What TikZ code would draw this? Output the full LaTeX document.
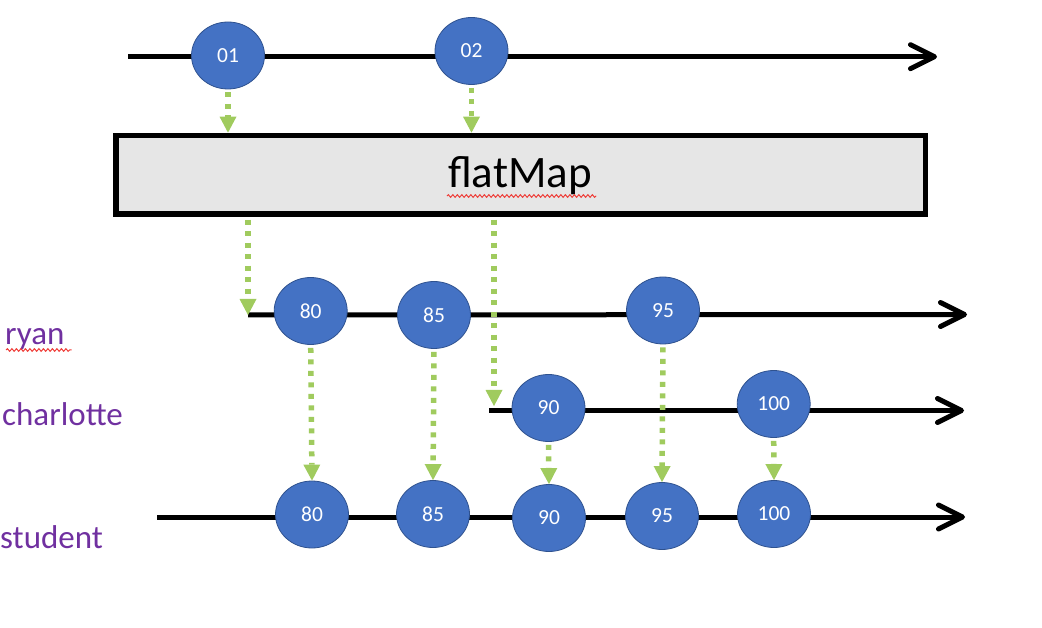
\documentclass[tikz,border=0pt]{standalone}
\usepackage{fontspec}
\setmainfont{Carlito}
\usetikzlibrary{arrows.meta,decorations.pathmorphing,calc,shapes.geometric}
\definecolor{obl}{HTML}{4472C4}
\definecolor{obd}{HTML}{2F528F}
\definecolor{grn}{HTML}{A0CB5E}
\definecolor{purp}{HTML}{7030A0}
\definecolor{boxg}{HTML}{E6E6E6}
\definecolor{spell}{HTML}{EE3B36}
\begin{document}
\begin{tikzpicture}[x=1pt,y=-1pt,
  timeline/.style={line width=5pt,-{Straight Barb[length=24pt,width=24pt,round]}},
  marble/.style={ellipse,minimum width=73pt,minimum height=67pt,inner sep=0pt,
    fill=obl,draw=obd,line width=0.8pt,text=white,font=\fontsize{21.5}{24}\selectfont},
  flow/.style={draw=grn,line width=5.5pt,dash pattern=on 5pt off 6.5pt,
    -{Triangle[length=16pt,width=17pt,line width=0pt,fill=grn]},shorten <=3pt},
  lbl/.style={text=purp,font=\fontsize{33}{38}\selectfont,inner sep=0pt,anchor=base west},
  squig/.style={draw=spell,line width=1pt,decorate,decoration={snake,segment length=4.5pt,amplitude=1.3pt}}]
\useasboundingbox (0,0) rectangle (1042,628);

% timelines
\coordinate (t0) at (128,56.7);  \coordinate (t1) at (937,56.7);
\coordinate (r0) at (248,315);   \coordinate (r1) at (967,314.5);
\coordinate (h0) at (489,410.5); \coordinate (h1) at (964,410.5);
\coordinate (s0) at (157,517);   \coordinate (s1) at (965,517);
\coordinate (hTip) at (494,406);
\draw[timeline] (t0) -- (t1);
\draw[timeline] (r0) -- (r1);
\draw[timeline] (h0) -- (h1);
\draw[timeline] (s0) -- (s1);

% operator box
\node[draw,line width=5.3pt,fill=boxg,minimum width=809.5pt,minimum height=78.7pt,inner sep=0pt] (box) at (520.75,174.65) {};
\node[font=\fontsize{45}{50}\selectfont,anchor=base,inner sep=0pt] (fm) at (520,188) {flatMap};
\draw[squig] ($(fm.base west)+(-1,8)$) -- ($(fm.base east)+(4,8)$);

% marbles
\node[marble] (c01) at (228,55.5) {01};
\node[marble] (c02) at (471.5,51) {02};
\node[marble] (r80) at (310.7,311) {80};
\node[marble] (r85) at (434,315) {85};
\node[marble] (r95) at (663,310.5) {95};
\node[marble] (h90) at (548.5,408) {90};
\node[marble] (h100) at (773.7,404) {100};
\node[marble] (s80) at (312,514.5) {80};
\node[marble] (s85) at (433,514) {85};
\node[marble] (s90) at (549,518) {90};
\node[marble] (s95) at (662,516) {95};
\node[marble] (s100) at (774,514) {100};

% labels
\node[lbl] (ryan) at (5,345) {ryan};
\draw[squig] ($(ryan.base west)+(1,5)$) -- ($(ryan.base east)+(7,5)$);
\node[lbl] (charlotte) at (2,425) {charlotte};
\node[lbl] (student) at (0,548) {student};

% flows
\draw[flow] (c01.south) -- (c01.south |- box.north);
\draw[flow] (c02.south) -- (c02.south |- box.north);
\draw[flow] (r0 |- box.south) -- (r0);
\draw[flow] (hTip |- box.south) -- (hTip);
\draw[flow] (r80.south) -- (s80.north);
\draw[flow] (r85.south) -- (s85.north);
\draw[flow] (h90.south) -- (s90.north);
\draw[flow] (r95.south) -- (s95.north);
\draw[flow] (h100.south) -- (s100.north);
\end{tikzpicture}
\end{document}
